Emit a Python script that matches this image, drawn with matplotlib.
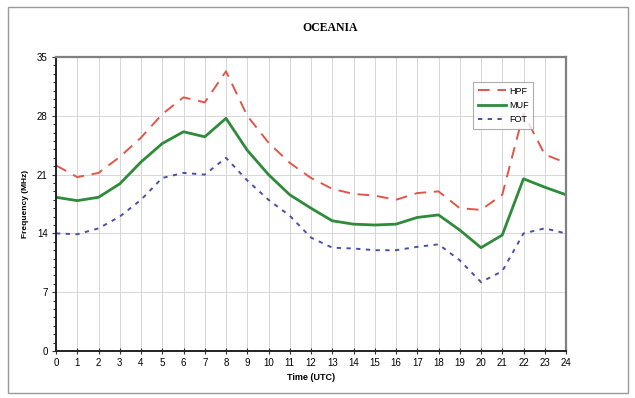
import matplotlib
matplotlib.use("Agg")
import matplotlib.pyplot as plt
from matplotlib.patches import Rectangle
from matplotlib.ticker import MultipleLocator

hours = list(range(25))
hpf = [22.1, 20.7, 21.2, 23.1, 25.4, 28.2, 30.2, 29.6, 33.3, 28.0, 24.8, 22.4, 20.6,
       19.3, 18.7, 18.5, 18.0, 18.8, 19.0, 17.0, 16.8, 18.6, 28.3, 23.4, 22.4]
muf = [18.3, 17.9, 18.3, 19.9, 22.5, 24.7, 26.1, 25.5, 27.7, 23.9, 21.0, 18.6, 17.0,
       15.5, 15.1, 15.0, 15.1, 15.9, 16.2, 14.4, 12.3, 13.8, 20.5, 19.5, 18.6]
fot = [14.0, 13.9, 14.6, 16.0, 18.0, 20.6, 21.2, 21.0, 23.0, 20.3, 18.0, 16.1, 13.5,
       12.3, 12.2, 12.0, 12.0, 12.4, 12.7, 10.8, 8.2, 9.5, 14.0, 14.6, 14.0]
yticks = [0, 7, 14, 21, 28, 35]

plt.rcParams['font.family'] = ['Liberation Sans', 'DejaVu Sans']

fig = plt.figure(figsize=(6.35, 3.98), dpi=100)
fig.patch.set_facecolor('white')
fig.patches.append(Rectangle((8/635, 1-393/398), (628-8)/635, (393-7)/398,
                             transform=fig.transFigure, fill=False,
                             edgecolor='#9a9a9a', linewidth=1.0))

ax = fig.add_axes([56/635, 1-351/398, (566-56)/635, (351-57)/398])
ax.plot(hours, hpf, color='#e0574a', linewidth=1.4, dashes=(6, 4), label='HPF')
ax.plot(hours, muf, color='#2e8b3a', linewidth=2.0, label='MUF')
ax.plot(hours, fot, color='#4a4fa8', linewidth=1.4, dashes=(2.2, 2.8), label='FOT')

ax.set_xlim(0, 24)
ax.set_ylim(0, 35)
ax.set_xticks(hours)
ax.set_yticks(yticks)
ax.yaxis.set_minor_locator(MultipleLocator(1))
ax.tick_params(axis='both', labelsize=7, length=3, width=0.8, color='#333333', pad=3)
ax.tick_params(axis='y', which='minor', length=2, width=0.6)
ax.tick_params(axis='x', direction='inout', length=4)
ax.grid(True, color='#d6d6d6', linewidth=0.7)
ax.set_axisbelow(True)
for s in ['top', 'right']:
    ax.spines[s].set_color('#808080')
    ax.spines[s].set_linewidth(1.6)
for s in ['left', 'bottom']:
    ax.spines[s].set_color('#222222')
    ax.spines[s].set_linewidth(1.4)

ax.set_xlabel('Time (UTC)', fontsize=6.5, fontweight='bold', labelpad=4)
ax.set_ylabel('Frequency (MHz)', fontsize=6, fontweight='bold', labelpad=6)
fig.text(330/635, 1-28/398, 'OCEANIA', ha='center', va='center',
         family=['Liberation Serif', 'DejaVu Serif'], fontweight='bold', fontsize=8.5)

leg = ax.legend(loc='upper left', bbox_to_anchor=((473-56)/510, 1-(82-57)/294),
                fontsize=6.5, frameon=True, fancybox=False, edgecolor='#9a9a9a',
                handlelength=3.2, handletextpad=0.3, borderpad=0.5, labelspacing=0.6,
                borderaxespad=0)
leg.get_frame().set_linewidth(0.8)

fig.savefig('out.png', dpi=100)
